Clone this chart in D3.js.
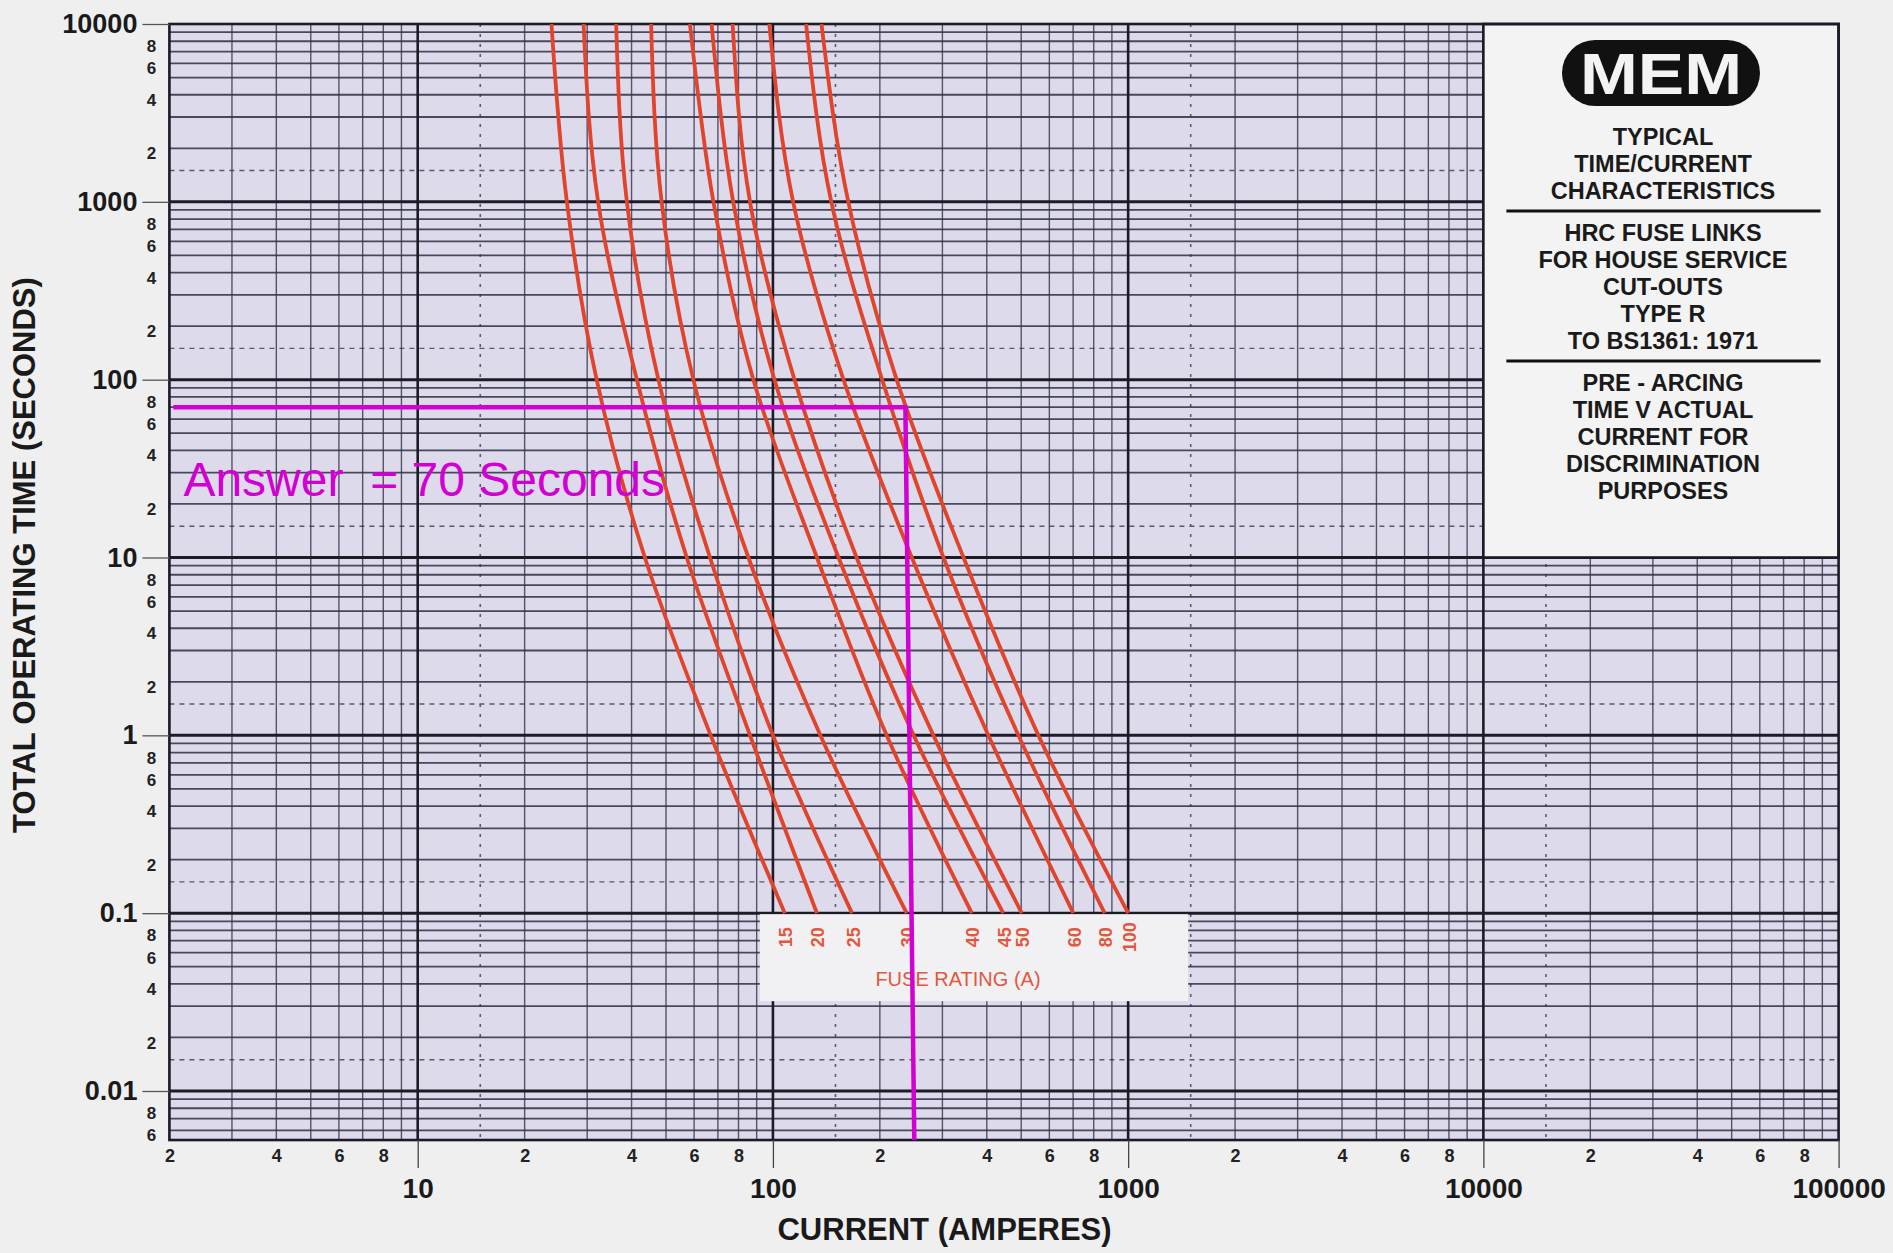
<!doctype html>
<html>
  <head>
    <meta charset="utf-8">
    <title>MEM fuse time/current</title>
    <script src="https://d3js.org/d3.v7.min.js"></script>
    <style>
      body { margin: 0; background: #efeff0; }
      text { font-family: 'Liberation Sans', Arial, sans-serif; }
    </style>
  </head>
  <body>
    <script>
      // fuse ratings (A), left to right
      const ratings = [15, 20, 25, 30, 40, 45, 50, 60, 80, 100];
      // operating times (s) at which each curve was read
      const times = [10000, 1000, 100, 10, 1, 0.1];
      // current (A) of each fuse at those times
      const amps15 = [23.8, 26.3, 31.9, 43.6, 66.8, 108];
      const amps20 = [29.3, 32.2, 41.4, 57.2, 86.2, 133];
      const amps25 = [36.2, 38.8, 47.6, 66.5, 100, 167];
      const amps30 = [45.4, 48.6, 59.7, 85.3, 136, 238];
      const amps40 = [58.4, 68.0, 88.1, 133, 209, 363];
      const amps45 = [67.2, 77.3, 101, 153, 249, 445];
      const amps50 = [77.0, 86.2, 115, 172, 283, 502];
      const amps60 = [97.7, 114, 158, 246, 404, 701];
      const amps80 = [124, 146, 203, 302, 491, 859];
      const amps100 = [137, 163, 223, 344, 559, 1000];
      const curves = [amps15, amps20, amps25, amps30, amps40, amps45, amps50, amps60, amps80, amps100];

      // axis ticks
      const xMajor = [10, 100, 1000, 10000, 100000];
      const yMajor = [0.01, 0.1, 1, 10, 100, 1000, 10000];
      const minorDigits = [2, 4, 6, 8];

      // worked answer drawn on top
      const answerTime = 70;
      const answerAmps = [236, 250];
      const answerText = 'Answer  = 70 Seconds';

      const boxGroups = [
        ['TYPICAL', 'TIME/CURRENT', 'CHARACTERISTICS'],
        ['HRC FUSE LINKS', 'FOR HOUSE SERVICE', 'CUT-OUTS', 'TYPE R', 'TO BS1361: 1971'],
        ['PRE - ARCING', 'TIME V ACTUAL', 'CURRENT FOR', 'DISCRIMINATION', 'PURPOSES']
      ];

      const width = 1893, height = 1253;
      const red = '#e0442c', magenta = '#d200d2';
      const gridMinor = '#34344a', gridMajor = '#1c1c26';

      const svg = d3.select('body').append('svg')
          .attr('width', width)
          .attr('height', height);

      // log scales
      const x = d3.scaleLog().domain([10, 100000]).range([417.7, 1838.6]);
      const y = d3.scaleLog().domain([0.01, 10000]).range([1091, 24]);
      const xMin = 2, yMin = 0.0053;
      const pL = x(xMin), pR = x(100000), pT = y(10000), pB = y(yMin);

      // grid values
      const xGrid = [], yGrid = [];
      for (let k = 0; k <= 4; k++) {
        for (let m = 1; m <= 9; m++) {
          const v = m * Math.pow(10, k);
          if (v >= xMin && v <= 100000) xGrid.push({ v, m, major: m === 1 });
        }
      }
      for (let k = -3; k <= 3; k++) {
        for (let m = 1; m <= 9; m++) {
          const v = m * Math.pow(10, k);
          if (v >= yMin && v <= 10000) yGrid.push({ v, m, major: m === 1 });
        }
      }
      const xHalf = [15, 150, 1500, 15000];
      const yHalf = [0.015, 0.15, 1.5, 15, 150, 1500];

      svg.append('rect')
          .attr('x', pL).attr('y', pT)
          .attr('width', pR - pL).attr('height', pB - pT)
          .attr('fill', '#dcdaeb');

      const grid = svg.append('g');

      // dashed / dotted lines at 1.5 x decade
      grid.selectAll('.hd').data(yHalf).enter().append('line')
          .attr('x1', pL).attr('x2', pR)
          .attr('y1', d => y(d)).attr('y2', d => y(d))
          .attr('stroke', '#5a5a6c').attr('stroke-width', 1.4)
          .attr('stroke-dasharray', '5,5');
      grid.selectAll('.vd').data(xHalf).enter().append('line')
          .attr('y1', pT).attr('y2', pB)
          .attr('x1', d => x(d)).attr('x2', d => x(d))
          .attr('stroke', '#5a5a6c').attr('stroke-width', 1.6)
          .attr('stroke-dasharray', '3,7');

      // minor lines
      grid.selectAll('.hm').data(yGrid.filter(d => !d.major)).enter().append('line')
          .attr('x1', pL).attr('x2', pR)
          .attr('y1', d => y(d.v)).attr('y2', d => y(d.v))
          .attr('stroke', gridMinor).attr('stroke-width', 1.8).attr('opacity', 0.88);
      grid.selectAll('.vm').data(xGrid.filter(d => !d.major)).enter().append('line')
          .attr('y1', pT).attr('y2', pB)
          .attr('x1', d => x(d.v)).attr('x2', d => x(d.v))
          .attr('stroke', gridMinor).attr('stroke-width', 1.4).attr('opacity', 0.8);

      // decade lines
      grid.selectAll('.hM').data(yGrid.filter(d => d.major)).enter().append('line')
          .attr('x1', pL).attr('x2', pR)
          .attr('y1', d => y(d.v)).attr('y2', d => y(d.v))
          .attr('stroke', gridMajor).attr('stroke-width', 3);
      grid.selectAll('.vM').data(xGrid.filter(d => d.major)).enter().append('line')
          .attr('y1', pT).attr('y2', pB)
          .attr('x1', d => x(d.v)).attr('x2', d => x(d.v))
          .attr('stroke', gridMajor).attr('stroke-width', 2.6);

      // title box top right
      const bx0 = x(10000), bx1 = x(100000), by0 = y(10000), by1 = y(10);
      svg.append('rect')
          .attr('x', bx0).attr('y', by0)
          .attr('width', bx1 - bx0).attr('height', by1 - by0)
          .attr('fill', '#f3f3f4');

      // plot border
      svg.append('rect')
          .attr('x', pL).attr('y', pT)
          .attr('width', pR - pL).attr('height', pB - pT)
          .attr('fill', 'none').attr('stroke', gridMajor).attr('stroke-width', 2.6);
      svg.append('rect')
          .attr('x', bx0).attr('y', by0)
          .attr('width', bx1 - bx0).attr('height', by1 - by0)
          .attr('fill', 'none').attr('stroke', gridMajor).attr('stroke-width', 2.6);

      // MEM logo
      const cx = (bx0 + bx1) / 2;
      svg.append('rect')
          .attr('x', cx - 99).attr('y', by0 + 16)
          .attr('width', 198).attr('height', 66)
          .attr('rx', 33)
          .attr('fill', '#111');
      svg.append('text')
          .attr('x', cx - 81).attr('y', by0 + 70)
          .attr('textLength', 162).attr('lengthAdjust', 'spacingAndGlyphs')
          .attr('font-size', 58).attr('font-weight', 'bold')
          .attr('fill', '#f3f3f4')
          .text('MEM');

      // box text
      let ty = by0 + 113;
      boxGroups.forEach((lines, gi) => {
        lines.forEach(t => {
          svg.append('text')
              .attr('x', cx + 2).attr('y', ty)
              .attr('dy', '0.35em')
              .attr('text-anchor', 'middle')
              .attr('font-size', 23.5).attr('font-weight', 'bold')
              .attr('fill', '#1a1a1a')
              .text(t);
          ty += 27;
        });
        if (gi < boxGroups.length - 1) {
          const ly = ty - 27 + 20;
          svg.append('line')
              .attr('x1', bx0 + 23).attr('x2', bx1 - 18)
              .attr('y1', ly).attr('y2', ly)
              .attr('stroke', '#111').attr('stroke-width', 3);
          ty = ly + 22;
        }
      });

      // fuse rating label panel
      const ends = curves.map(c => x(c[c.length - 1]));
      const fy0 = y(0.1) + 1;
      const fx0 = ends[0] - 25, fx1 = ends[ends.length - 1] + 60;
      svg.append('rect')
          .attr('x', fx0).attr('y', fy0)
          .attr('width', fx1 - fx0).attr('height', 87)
          .attr('fill', '#f1f1f3');

      // curves
      svg.append('clipPath').attr('id', 'plot')
        .append('rect')
          .attr('x', pL).attr('y', pT)
          .attr('width', pR - pL).attr('height', pB - pT);

      const line = d3.line()
          .x(d => x(d[0]))
          .y(d => y(d[1]))
          .curve(d3.curveMonotoneY);

      svg.append('g')
          .attr('clip-path', 'url(#plot)')
        .selectAll('path')
        .data(curves)
        .enter().append('path')
          .attr('d', c => line(c.map((a, i) => [a, times[i]])))
          .attr('fill', 'none')
          .attr('stroke', red)
          .attr('stroke-width', 3.8);

      svg.append('g')
        .selectAll('text')
        .data(ratings)
        .enter().append('text')
          .attr('transform', (r, i) => `translate(${ends[i] + 1}, ${fy0 + 23}) rotate(-90)`)
          .attr('dy', '0.36em')
          .attr('text-anchor', 'middle')
          .attr('font-size', 18).attr('font-weight', 'bold')
          .attr('fill', '#e2583f')
          .text(r => r);

      svg.append('text')
          .attr('x', (fx0 + fx1) / 2 - 16).attr('y', fy0 + 72)
          .attr('text-anchor', 'middle')
          .attr('font-size', 20)
          .attr('fill', '#e2583f')
          .text('FUSE RATING (A)');

      // axes
      const xMinorVals = xGrid.filter(d => minorDigits.includes(d.m)).map(d => d.v);
      const yMinorVals = yGrid.filter(d => minorDigits.includes(d.m)).map(d => d.v);
      const digitOf = new Map(xGrid.concat(yGrid).map(d => [d.v, String(d.m)]));

      const xMinorAxis = svg.append('g')
          .attr('transform', `translate(0, ${pB})`)
          .call(d3.axisBottom(x).tickValues(xMinorVals).tickSize(0).tickPadding(9).tickFormat(d => digitOf.get(d)));
      xMinorAxis.selectAll('text').attr('font-size', 18).attr('font-weight', 'bold').attr('fill', '#222');

      const xMajorAxis = svg.append('g')
          .attr('transform', `translate(0, ${pB})`)
          .call(d3.axisBottom(x).tickValues(xMajor).tickSize(28).tickPadding(10).tickFormat(d => String(d)));
      xMajorAxis.selectAll('text').attr('font-size', 28).attr('font-weight', 'bold').attr('fill', '#1a1a1a');
      xMajorAxis.selectAll('line').attr('stroke', '#444').attr('stroke-width', 1.3);

      const yMajorAxis = svg.append('g')
          .attr('transform', `translate(${pL}, 0)`)
          .call(d3.axisLeft(y).tickValues(yMajor).tickSize(27).tickPadding(5).tickFormat(d => String(d)));
      yMajorAxis.selectAll('text').attr('font-size', 27).attr('font-weight', 'bold').attr('fill', '#1a1a1a');
      yMajorAxis.selectAll('line').attr('stroke', '#555').attr('stroke-width', 1.3);

      const yMinorAxis = svg.append('g')
          .attr('transform', `translate(${pL}, 0)`)
          .call(d3.axisLeft(y).tickValues(yMinorVals).tickSize(0).tickFormat(d => digitOf.get(d)));
      yMinorAxis.selectAll('text')
          .attr('x', -18).attr('dy', '0.62em')
          .attr('text-anchor', 'middle')
          .attr('font-size', 17).attr('font-weight', 'bold').attr('fill', '#222');

      svg.selectAll('.domain').remove();

      // axis titles
      svg.append('text')
          .attr('x', (x(10) + x(10000)) / 2 - 6).attr('y', 1240)
          .attr('text-anchor', 'middle')
          .attr('font-size', 31).attr('font-weight', 'bold').attr('fill', '#1a1a1a')
          .text('CURRENT (AMPERES)');
      svg.append('text')
          .attr('transform', `translate(35, ${(pT + pB) / 2 - 27}) rotate(-90)`)
          .attr('text-anchor', 'middle')
          .attr('font-size', 31).attr('font-weight', 'bold').attr('fill', '#1a1a1a')
          .text('TOTAL OPERATING TIME (SECONDS)');

      // answer lines
      svg.append('path')
          .attr('d', `M${pL + 4},${y(answerTime)} H${x(answerAmps[0])} L${x(answerAmps[1])},${pB}`)
          .attr('fill', 'none')
          .attr('stroke', magenta)
          .attr('stroke-width', 4.5);
      svg.append('text')
          .attr('x', pL + 14).attr('y', y(answerTime) + 89)
          .attr('font-size', 48)
          .attr('fill', magenta)
          .style('white-space', 'pre')
          .text(answerText);
    </script>
  </body>
</html>
